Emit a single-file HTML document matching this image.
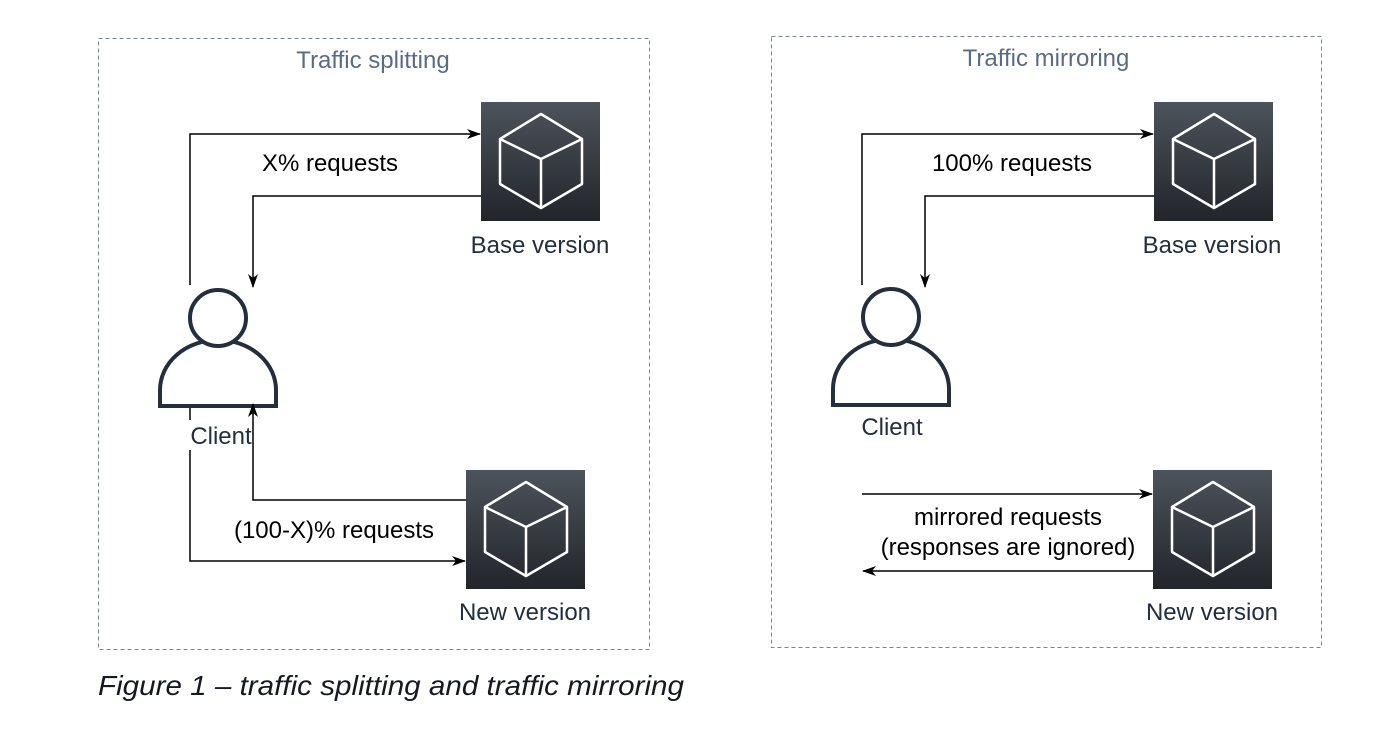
<!DOCTYPE html>
<html><head><style>
body{margin:0;background:#fff;}
svg text{font-family:"Liberation Sans",sans-serif;}
</style></head><body>
<svg width="1394" height="726" viewBox="0 0 1394 726" xmlns="http://www.w3.org/2000/svg">
<defs>
<linearGradient id="g" x1="0" y1="0" x2="0" y2="1"><stop offset="0" stop-color="#4d535c"/><stop offset="1" stop-color="#22252a"/></linearGradient>
<marker id="a" viewBox="0 0 14 12" refX="13" refY="6" markerWidth="14" markerHeight="12" markerUnits="userSpaceOnUse" orient="auto"><path d="M0,1 L14,6 L0,11 L4,6 Z" fill="#000"/></marker>
<g id="cube">
<rect x="0" y="0" width="119" height="119" fill="url(#g)"/>
<path d="M60,12 L101,37 L101,82 L60,106 L19,82 L19,37 Z M19,37 L60,57 L101,37 M60,57 L60,106" fill="none" stroke="#fff" stroke-width="2.5" stroke-linejoin="round"/>
</g>
<g id="person" fill="#fff" stroke="#232f3e" stroke-width="4">
<path d="M-58,88 L-58,72 A58,50 0 0 1 58,72 L58,88 Z"/>
<circle cx="0" cy="0" r="28"/>
</g>
</defs>
<g fill="none" stroke="#7a8594" stroke-width="1" stroke-dasharray="4,3">
<rect x="98.5" y="38.5" width="551" height="611"/>
<rect x="771.5" y="36.5" width="550" height="611"/>
</g>
<text x="373" y="68" font-size="24" fill="#5a6b86" text-anchor="middle">Traffic splitting</text>
<text x="1046" y="66" font-size="24" fill="#5a6b86" text-anchor="middle">Traffic mirroring</text>

<!-- left -->
<use href="#cube" x="481" y="102"/>
<use href="#cube" x="466" y="470"/>
<use href="#person" x="218" y="318"/>
<g fill="none" stroke="#000" stroke-width="1.5">
<path d="M190,285 L190,134 L480,134" marker-end="url(#a)"/>
<path d="M481,196 L253,196 L253,287" marker-end="url(#a)"/>
<path d="M190,450 L190,561 L465,561" marker-end="url(#a)"/>
<path d="M466,500 L253,500 L253,404" marker-end="url(#a)"/>
<path d="M190,408 L190,420"/>
</g>
<text x="330" y="171" font-size="24" fill="#000" text-anchor="middle">X% requests</text>
<text x="540" y="253" font-size="24" fill="#232f3e" text-anchor="middle">Base version</text>
<text x="221" y="444" font-size="24" fill="#232f3e" text-anchor="middle">Client</text>
<text x="334" y="538" font-size="24" fill="#000" text-anchor="middle">(100-X)% requests</text>
<text x="525" y="620" font-size="24" fill="#232f3e" text-anchor="middle">New version</text>

<!-- right -->
<use href="#cube" x="1154" y="102"/>
<use href="#cube" x="1153" y="470"/>
<use href="#person" x="891" y="317"/>
<g fill="none" stroke="#000" stroke-width="1.5">
<path d="M862,285 L862,134 L1153,134" marker-end="url(#a)"/>
<path d="M1154,196 L925,196 L925,287" marker-end="url(#a)"/>
<path d="M862,494 L1152,494" marker-end="url(#a)"/>
<path d="M1153,571 L863,571" marker-end="url(#a)"/>
</g>
<text x="1012" y="171" font-size="24" fill="#000" text-anchor="middle">100% requests</text>
<text x="1212" y="253" font-size="24" fill="#232f3e" text-anchor="middle">Base version</text>
<text x="892" y="435" font-size="24" fill="#232f3e" text-anchor="middle">Client</text>
<text x="1008" y="525" font-size="24" fill="#000" text-anchor="middle">mirrored requests</text>
<text x="1008" y="555" font-size="24" fill="#000" text-anchor="middle">(responses are ignored)</text>
<text x="1212" y="620" font-size="24" fill="#232f3e" text-anchor="middle">New version</text>

<text x="98" y="695" font-size="28" font-style="italic" fill="#16191f" textLength="586" lengthAdjust="spacingAndGlyphs">Figure 1 – traffic splitting and traffic mirroring</text>
</svg>
</body></html>
